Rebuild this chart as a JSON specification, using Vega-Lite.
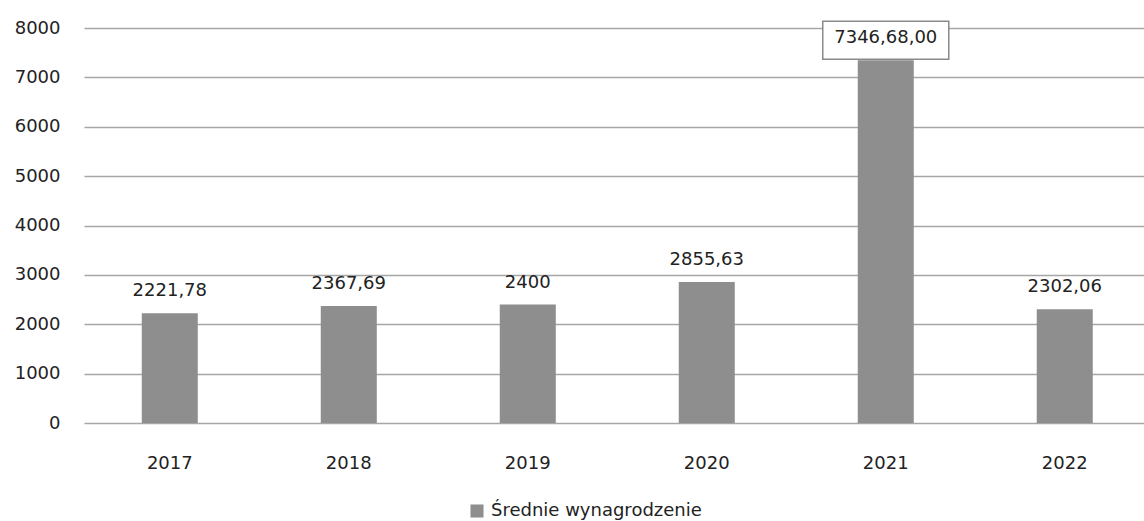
{
  "$schema": "https://vega.github.io/schema/vega-lite/v6.json",
  "width": 1060,
  "height": 395,
  "autosize": {"type": "none"},
  "padding": {"left": 84, "top": 28, "right": 0, "bottom": 98},
  "background": "white",
  "config": {
    "view": {"stroke": null},
    "font": "DejaVu Sans",
    "axis": {"labelFont": "DejaVu Sans", "labelColor": "#222222", "labelFontSize": 18},
    "legend": {"labelFont": "DejaVu Sans"}
  },
  "data": {
    "values": [
      {"year": "2017", "value": 2221.78, "label": "2221,78", "series": "Średnie wynagrodzenie", "boxed": false},
      {"year": "2018", "value": 2367.69, "label": "2367,69", "series": "Średnie wynagrodzenie", "boxed": false},
      {"year": "2019", "value": 2400, "label": "2400", "series": "Średnie wynagrodzenie", "boxed": false},
      {"year": "2020", "value": 2855.63, "label": "2855,63", "series": "Średnie wynagrodzenie", "boxed": false},
      {"year": "2021", "value": 7346.68, "label": "7346,68,00", "series": "Średnie wynagrodzenie", "boxed": true},
      {"year": "2022", "value": 2302.06, "label": "2302,06", "series": "Średnie wynagrodzenie", "boxed": false}
    ]
  },
  "encoding": {
    "x": {
      "field": "year", "type": "nominal", "title": null,
      "scale": {"paddingInner": 0.687, "paddingOuter": 0.3045, "align": 0.53},
      "axis": {"labelAngle": 0, "ticks": false, "domain": false, "labelPadding": 31, "grid": false}
    },
    "y": {
      "field": "value", "type": "quantitative", "title": null,
      "scale": {"domain": [0, 8000], "nice": false},
      "axis": {
        "values": [0, 1000, 2000, 3000, 4000, 5000, 6000, 7000, 8000],
        "format": "d", "ticks": false, "domain": false, "labelPadding": 24,
        "grid": true, "gridColor": "#a6a6a6", "gridWidth": 1.5
      }
    }
  },
  "layer": [
    {
      "mark": {"type": "bar"},
      "encoding": {
        "color": {
          "field": "series", "type": "nominal",
          "scale": {"range": ["#8e8e8e"]},
          "legend": {
            "title": null, "orient": "none", "legendX": 384, "legendY": 474,
            "symbolType": "square", "symbolSize": 170, "labelFontSize": 18,
            "labelColor": "#222222", "labelOffset": 5, "labelLimit": 400,
            "symbolStrokeWidth": 0
          }
        }
      }
    },
    {
      "transform": [{"filter": "datum.boxed"}],
      "mark": {
        "type": "point",
        "shape": "M-1,-0.3016L1,-0.3016L1,0.3016L-1,0.3016Z",
        "size": 15876, "filled": true, "fill": "white",
        "stroke": "#8a8a8a", "strokeWidth": 1.5, "opacity": 1, "yOffset": -20
      }
    },
    {
      "mark": {"type": "text", "dy": -22, "baseline": "middle", "fontSize": 18, "color": "#222222"},
      "encoding": {"text": {"field": "label"}}
    }
  ]
}
